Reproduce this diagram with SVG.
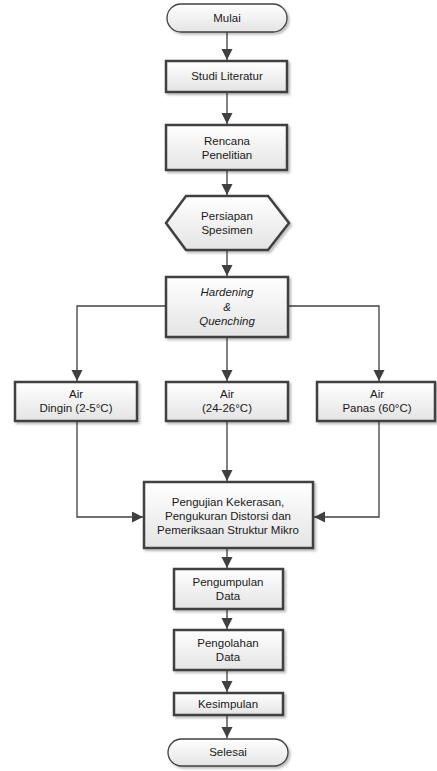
<svg xmlns="http://www.w3.org/2000/svg" width="437" height="771" viewBox="0 0 437 771">
<defs>
<linearGradient id="g" x1="0" y1="0" x2="0" y2="1">
<stop offset="0" stop-color="#ffffff"/>
<stop offset="1" stop-color="#e4e4e4"/>
</linearGradient>
<filter id="sh" x="-10%" y="-10%" width="130%" height="140%">
<feDropShadow dx="2" dy="2" stdDeviation="1" flood-color="#000" flood-opacity="0.25"/>
</filter>
<marker id="ah" markerWidth="12" markerHeight="12" refX="11" refY="5.5" orient="auto" markerUnits="userSpaceOnUse">
<path d="M0,0 L11,5.5 L0,11 Z" fill="#404040"/>
</marker>
</defs>
<style>
.box{fill:url(#g);stroke:#404040;stroke-width:2.5;filter:url(#sh)}
.term{fill:url(#g);stroke:#404040;stroke-width:1.3;filter:url(#sh)}
.t{font-family:"Liberation Sans",Arial,sans-serif;font-size:11.5px;fill:#1a1a1a;text-anchor:middle}
.i{font-style:italic}
.c{fill:none;stroke:#404040;stroke-width:1.3}
.a{marker-end:url(#ah)}
</style>
<rect width="437" height="771" fill="#ffffff"/>
<g id="connectors">
<line class="c a" x1="227" y1="32" x2="227" y2="60"/>
<line class="c a" x1="227" y1="92" x2="227" y2="124"/>
<line class="c a" x1="227" y1="170" x2="227" y2="195"/>
<line class="c a" x1="227" y1="250" x2="227" y2="276"/>
<polyline class="c a" points="166,306 77,306 77,381"/>
<polyline class="c a" points="288,306 379,306 379,381"/>
<line class="c a" x1="227" y1="337" x2="227" y2="381"/>
<polyline class="c a" points="77,421 77,517 143,517"/>
<polyline class="c a" points="379,421 379,517 314,517"/>
<line class="c a" x1="227" y1="421" x2="227" y2="481"/>
<line class="c a" x1="227" y1="548" x2="227" y2="568"/>
<line class="c a" x1="227" y1="609" x2="227" y2="629"/>
<line class="c a" x1="227" y1="670" x2="227" y2="692"/>
<line class="c a" x1="227" y1="715" x2="227" y2="738"/>
</g>
<g id="mulai">
<rect class="term" x="167" y="4" width="120" height="28" rx="14"/>
<text class="t" x="227" y="22">Mulai</text>
</g>
<g id="studi">
<rect class="box" x="166" y="61" width="121" height="31"/>
<text class="t" x="227" y="80">Studi Literatur</text>
</g>
<g id="rencana">
<rect class="box" x="166" y="125" width="121" height="45"/>
<text class="t" x="227" y="145">Rencana</text>
<text class="t" x="227" y="159">Penelitian</text>
</g>
<g id="persiapan">
<polygon class="box" points="166,223 186,196 268,196 289,223 268,250 186,250"/>
<text class="t" x="227" y="220">Persiapan</text>
<text class="t" x="227" y="234">Spesimen</text>
</g>
<g id="hardening">
<rect class="box" x="166" y="277" width="122" height="60"/>
<text class="t i" x="227" y="296">Hardening</text>
<text class="t i" x="227" y="311">&amp;</text>
<text class="t i" x="227" y="325">Quenching</text>
</g>
<g id="dingin">
<rect class="box" x="15" y="382" width="122" height="39"/>
<text class="t" x="76" y="398">Air</text>
<text class="t" x="76" y="412">Dingin (2-5°C)</text>
</g>
<g id="normal">
<rect class="box" x="166" y="382" width="122" height="39"/>
<text class="t" x="227" y="398">Air</text>
<text class="t" x="227" y="412">(24-26°C)</text>
</g>
<g id="panas">
<rect class="box" x="317" y="382" width="118" height="39"/>
<text class="t" x="377" y="398">Air</text>
<text class="t" x="377" y="412">Panas (60°C)</text>
</g>
<g id="pengujian">
<rect class="box" x="144" y="482" width="169" height="66"/>
<text class="t" x="228" y="506">Pengujian Kekerasan,</text>
<text class="t" x="228" y="520">Pengukuran Distorsi dan</text>
<text class="t" x="228" y="534">Pemeriksaan Struktur Mikro</text>
</g>
<g id="pengumpulan">
<rect class="box" x="174" y="569" width="109" height="40"/>
<text class="t" x="228" y="586">Pengumpulan</text>
<text class="t" x="228" y="600">Data</text>
</g>
<g id="pengolahan">
<rect class="box" x="174" y="630" width="109" height="40"/>
<text class="t" x="228" y="647">Pengolahan</text>
<text class="t" x="228" y="661">Data</text>
</g>
<g id="kesimpulan">
<rect class="box" x="174" y="693" width="109" height="22"/>
<text class="t" x="228" y="708">Kesimpulan</text>
</g>
<g id="selesai">
<rect class="term" x="168" y="739" width="120" height="27" rx="13.5"/>
<text class="t" x="228" y="756">Selesai</text>
</g>
</svg>
